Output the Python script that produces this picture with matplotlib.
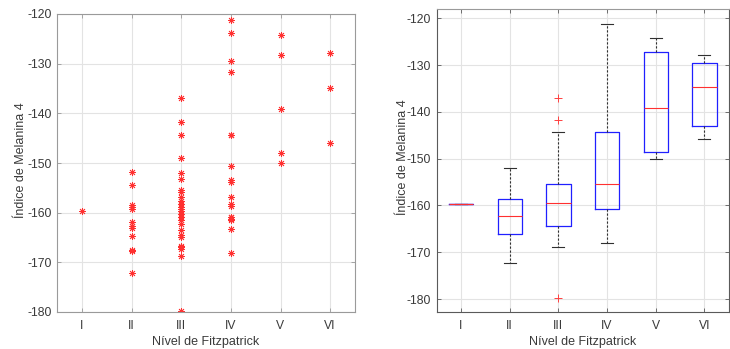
import numpy as np
import matplotlib.pyplot as plt

plt.rcParams['font.family'] = ['Liberation Sans', 'DejaVu Sans']
plt.rcParams['axes.unicode_minus'] = False

niveis = ['I', 'II', 'III', 'IV', 'V', 'VI']
tipo_I = [-159.6]
tipo_II = [-151.9, -154.4, -158.4, -158.8, -159.2, -161.9, -162.7, -163.1,
           -164.6, -167.5, -167.8, -172.2]
tipo_III = [-137.0, -141.8, -144.3, -149.0, -152.1, -153.3, -155.4, -155.8,
            -156.8, -157.6, -158.2, -158.9, -159.3, -159.7, -160.2, -160.9,
            -161.4, -162.3, -163.5, -164.4, -164.9, -166.8, -167.0, -167.3,
            -168.8, -179.8]
tipo_IV = [-121.2, -123.8, -129.5, -131.6, -144.4, -144.4, -150.6, -153.5,
           -153.9, -156.8, -158.2, -158.6, -160.8, -160.8, -161.2, -161.5,
           -163.3, -168.1]
tipo_V = [-124.3, -128.3, -139.2, -148.0, -150.0]
tipo_VI = [-127.9, -134.8, -145.9]

grupos = [tipo_I, tipo_II, tipo_III, tipo_IV, tipo_V, tipo_VI]


def stats_matlab(d):
    # quartis como o prctile do MATLAB (metodo hazen)
    d = np.sort(np.array(d))
    q1, med, q3 = np.percentile(d, [25, 50, 75], method='hazen')
    iqr = q3 - q1
    dentro = d[(d >= q1 - 1.5 * iqr) & (d <= q3 + 1.5 * iqr)]
    fora = d[(d < q1 - 1.5 * iqr) | (d > q3 + 1.5 * iqr)]
    return dict(med=med, q1=q1, q3=q3, whislo=dentro.min(), whishi=dentro.max(),
                fliers=fora)


def estilo(ax, cor_spine):
    ax.grid(True, color='#e3e3e3', lw=0.8)
    ax.set_axisbelow(True)
    for s in ax.spines.values():
        s.set_color(cor_spine)
        s.set_linewidth(0.8)
    ax.tick_params(direction='in', length=3, width=0.6, top=True, right=True,
                   colors='#3a3a3a', labelsize=8.7, color=cor_spine)
    ax.tick_params(axis='x', pad=6)
    ax.tick_params(axis='y', pad=4)
    ax.set_xticks(range(1, 7))
    ax.set_xticklabels(niveis)
    ax.set_yticks(np.arange(-180, -119, 10))
    ax.set_xlim(0.5, 6.5)


fig = plt.figure(figsize=(7.3, 3.49), dpi=100)
ax1 = fig.add_axes([57 / 730, 37 / 349, 298 / 730, 298 / 349])
ax2 = fig.add_axes([436.7 / 730, 37.3 / 349, 292 / 730, 302.4 / 349])

# dispersao
for i, g in enumerate(grupos):
    ax1.plot(np.full(len(g), i + 1), g, linestyle='none', marker=(8, 2, 0),
             color='#ff3030', markersize=5, markeredgewidth=0.6)
estilo(ax1, '#9a9a9a')
ax1.set_ylim(-180, -120)

# boxplot
stats = [stats_matlab(g) for g in grupos]
ax2.bxp(stats, positions=range(1, 7), widths=0.5, showfliers=True,
        boxprops=dict(color='#2020ff', lw=0.9),
        medianprops=dict(color='#ff3030', lw=0.8),
        whiskerprops=dict(color='#303030', lw=0.8, linestyle=(0, (2, 1.6))),
        capprops=dict(color='#303030', lw=0.8),
        capwidths=0.25,
        flierprops=dict(marker='+', markeredgecolor='#ff4040', markersize=6,
                        markeredgewidth=0.7))
estilo(ax2, '#5a5a5a')
ax2.spines['top'].set_color('#9a9a9a')
ax2.set_ylim(-182.7, -118.1)

for ax in (ax1, ax2):
    ax.set_xlabel('Nível de Fitzpatrick', fontsize=9, color='#3a3a3a', va='center')
    ax.set_ylabel('Índice de Melanina 4', fontsize=9, color='#3a3a3a', va='center')
    ax.xaxis.set_label_coords(0.5, -(342 - 312) / 298)
ax1.yaxis.set_label_coords((21 - 57) / 298, 0.51)
ax2.yaxis.set_label_coords((403 - 436.7) / 292, 0.51)

fig.savefig('out.png', dpi=100)
